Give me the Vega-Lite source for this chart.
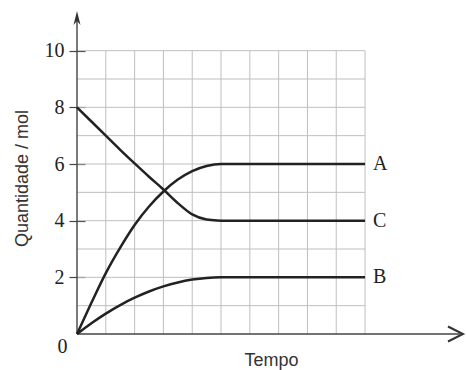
{
  "$schema": "https://vega.github.io/schema/vega-lite/v6.json",
  "width": 388,
  "height": 323,
  "autosize": {"type": "none"},
  "padding": {"left": 77, "top": 11, "right": 1, "bottom": 36},
  "background": "white",
  "config": {"view": {"stroke": null}},
  "datasets": {
    "curves": [
      {"s": "A", "t": 0, "q": 0}, {"s": "A", "t": 0.5, "q": 1.1}, {"s": "A", "t": 1, "q": 2.15}, {"s": "A", "t": 1.5, "q": 3.05},
      {"s": "A", "t": 2, "q": 3.85}, {"s": "A", "t": 2.5, "q": 4.5}, {"s": "A", "t": 3, "q": 5.03}, {"s": "A", "t": 3.5, "q": 5.45},
      {"s": "A", "t": 4, "q": 5.75}, {"s": "A", "t": 4.5, "q": 5.93}, {"s": "A", "t": 5, "q": 6}, {"s": "A", "t": 10, "q": 6},
      {"s": "B", "t": 0, "q": 0}, {"s": "B", "t": 0.5, "q": 0.38}, {"s": "B", "t": 1, "q": 0.72}, {"s": "B", "t": 1.5, "q": 1.02},
      {"s": "B", "t": 2, "q": 1.28}, {"s": "B", "t": 2.5, "q": 1.5}, {"s": "B", "t": 3, "q": 1.68}, {"s": "B", "t": 3.5, "q": 1.82},
      {"s": "B", "t": 4, "q": 1.92}, {"s": "B", "t": 4.5, "q": 1.98}, {"s": "B", "t": 5, "q": 2}, {"s": "B", "t": 10, "q": 2},
      {"s": "C", "t": 0, "q": 8}, {"s": "C", "t": 0.5, "q": 7.5}, {"s": "C", "t": 1, "q": 7.0}, {"s": "C", "t": 1.5, "q": 6.5},
      {"s": "C", "t": 2, "q": 6.02}, {"s": "C", "t": 2.5, "q": 5.55}, {"s": "C", "t": 3, "q": 5.1}, {"s": "C", "t": 3.5, "q": 4.62},
      {"s": "C", "t": 4, "q": 4.22}, {"s": "C", "t": 4.5, "q": 4.04}, {"s": "C", "t": 5, "q": 4}, {"s": "C", "t": 10, "q": 4}
    ],
    "grid": [{"g": 1}, {"g": 2}, {"g": 3}, {"g": 4}, {"g": 5}, {"g": 6}, {"g": 7}, {"g": 8}, {"g": 9}, {"g": 10}]
  },
  "layer": [
    {
      "data": {"name": "grid"},
      "mark": {"type": "rule", "color": "#bfbfbf", "strokeWidth": 1},
      "encoding": {
        "x": {"field": "g", "type": "quantitative", "scale": {"domain": [0, 13.47], "nice": false, "zero": false}},
        "y": {"datum": 0, "type": "quantitative", "scale": {"domain": [0, 11.4], "nice": false, "zero": false}},
        "y2": {"datum": 10}
      }
    },
    {
      "data": {"name": "grid"},
      "mark": {"type": "rule", "color": "#bfbfbf", "strokeWidth": 1},
      "encoding": {
        "y": {"field": "g", "type": "quantitative", "scale": {"domain": [0, 11.4], "nice": false, "zero": false}},
        "x": {"datum": 0, "type": "quantitative", "scale": {"domain": [0, 13.47], "nice": false, "zero": false}},
        "x2": {"datum": 10}
      }
    },
    {
      "data": {"values": [{"a": "x"}]},
      "mark": {"type": "rule", "color": "#444", "strokeWidth": 1.4},
      "encoding": {
        "x": {"datum": 0, "type": "quantitative", "scale": {"domain": [0, 13.47], "nice": false, "zero": false}},
        "x2": {"datum": 13.3},
        "y": {"datum": 0, "type": "quantitative", "scale": {"domain": [0, 11.4], "nice": false, "zero": false}}
      }
    },
    {
      "data": {"values": [{"a": "y"}]},
      "mark": {"type": "rule", "color": "#444", "strokeWidth": 1.4},
      "encoding": {
        "x": {"datum": 0, "type": "quantitative", "scale": {"domain": [0, 13.47], "nice": false, "zero": false}},
        "y": {"datum": 0, "type": "quantitative", "scale": {"domain": [0, 11.4], "nice": false, "zero": false}},
        "y2": {"datum": 11.1}
      }
    },
    {
      "data": {"values": [{"a": "y"}]},
      "mark": {"type": "point", "shape": "M0,0 L0.25,1 L0,0.72 L-0.25,1 Z", "size": 784, "filled": true, "color": "#333", "opacity": 1},
      "encoding": {
        "x": {"datum": 0, "type": "quantitative", "scale": {"domain": [0, 13.47], "nice": false, "zero": false}},
        "y": {"datum": 11.4, "type": "quantitative", "scale": {"domain": [0, 11.4], "nice": false, "zero": false}}
      }
    },
    {
      "data": {"values": [{"a": "x"}]},
      "mark": {"type": "point", "shape": "M-1,-0.5 L0,0 L-1,0.5", "size": 900, "filled": false, "color": "#333", "strokeWidth": 2, "opacity": 1},
      "encoding": {
        "x": {"datum": 13.4, "type": "quantitative", "scale": {"domain": [0, 13.47], "nice": false, "zero": false}},
        "y": {"datum": 0, "type": "quantitative", "scale": {"domain": [0, 11.4], "nice": false, "zero": false}}
      }
    },
    {
      "data": {"name": "curves"},
      "mark": {"type": "line", "color": "#222", "strokeWidth": 2.5, "interpolate": "monotone"},
      "encoding": {
        "x": {
          "field": "t", "type": "quantitative",
          "scale": {"domain": [0, 13.47], "nice": false, "zero": false},
          "axis": {
            "orient": "bottom", "domain": false, "ticks": false, "labels": false, "grid": false,
            "title": "Tempo", "titleFont": "Liberation Sans", "titleFontSize": 18, "titleFontWeight": "normal",
            "titleColor": "#333", "titleX": 194, "titleY": 31, "titleAlign": "center", "titleBaseline": "alphabetic"
          }
        },
        "y": {
          "field": "q", "type": "quantitative",
          "scale": {"domain": [0, 11.4], "nice": false, "zero": false},
          "axis": {
            "orient": "left", "offset": -8, "values": [0, 2, 4, 6, 8, 10], "domain": false, "grid": false,
            "ticks": true, "tickSize": 16, "tickColor": "#444", "tickWidth": 1.2,
            "tickOpacity": {"condition": {"test": "datum.value === 0", "value": 0}, "value": 1},
            "labelFont": "Liberation Serif", "labelFontSize": 20, "labelColor": "#222",
            "labelPadding": {"condition": {"test": "datum.value === 0", "value": 2}, "value": 5},
            "labelOffset": {"condition": {"test": "datum.value === 0", "value": 12}, "value": 0},
            "labelBaseline": "middle", "labelAlign": "right", "labelFlush": false, "labelOverlap": false,
            "title": "Quantidade / mol", "titleFont": "Liberation Sans", "titleFontSize": 18, "titleFontWeight": "normal",
            "titleColor": "#333", "titleX": -58, "titleY": 167, "titleAlign": "center", "titleBaseline": "alphabetic", "titleAngle": 270
          }
        },
        "detail": {"field": "s", "type": "nominal"}
      }
    },
    {
      "data": {"name": "curves"},
      "transform": [{"filter": "datum.t === 10"}],
      "mark": {"type": "text", "align": "left", "baseline": "middle", "dx": 8, "font": "Liberation Serif", "fontSize": 20, "color": "#222"},
      "encoding": {
        "x": {"field": "t", "type": "quantitative", "scale": {"domain": [0, 13.47], "nice": false, "zero": false}},
        "y": {"field": "q", "type": "quantitative", "scale": {"domain": [0, 11.4], "nice": false, "zero": false}},
        "text": {"field": "s", "type": "nominal"}
      }
    }
  ]
}
